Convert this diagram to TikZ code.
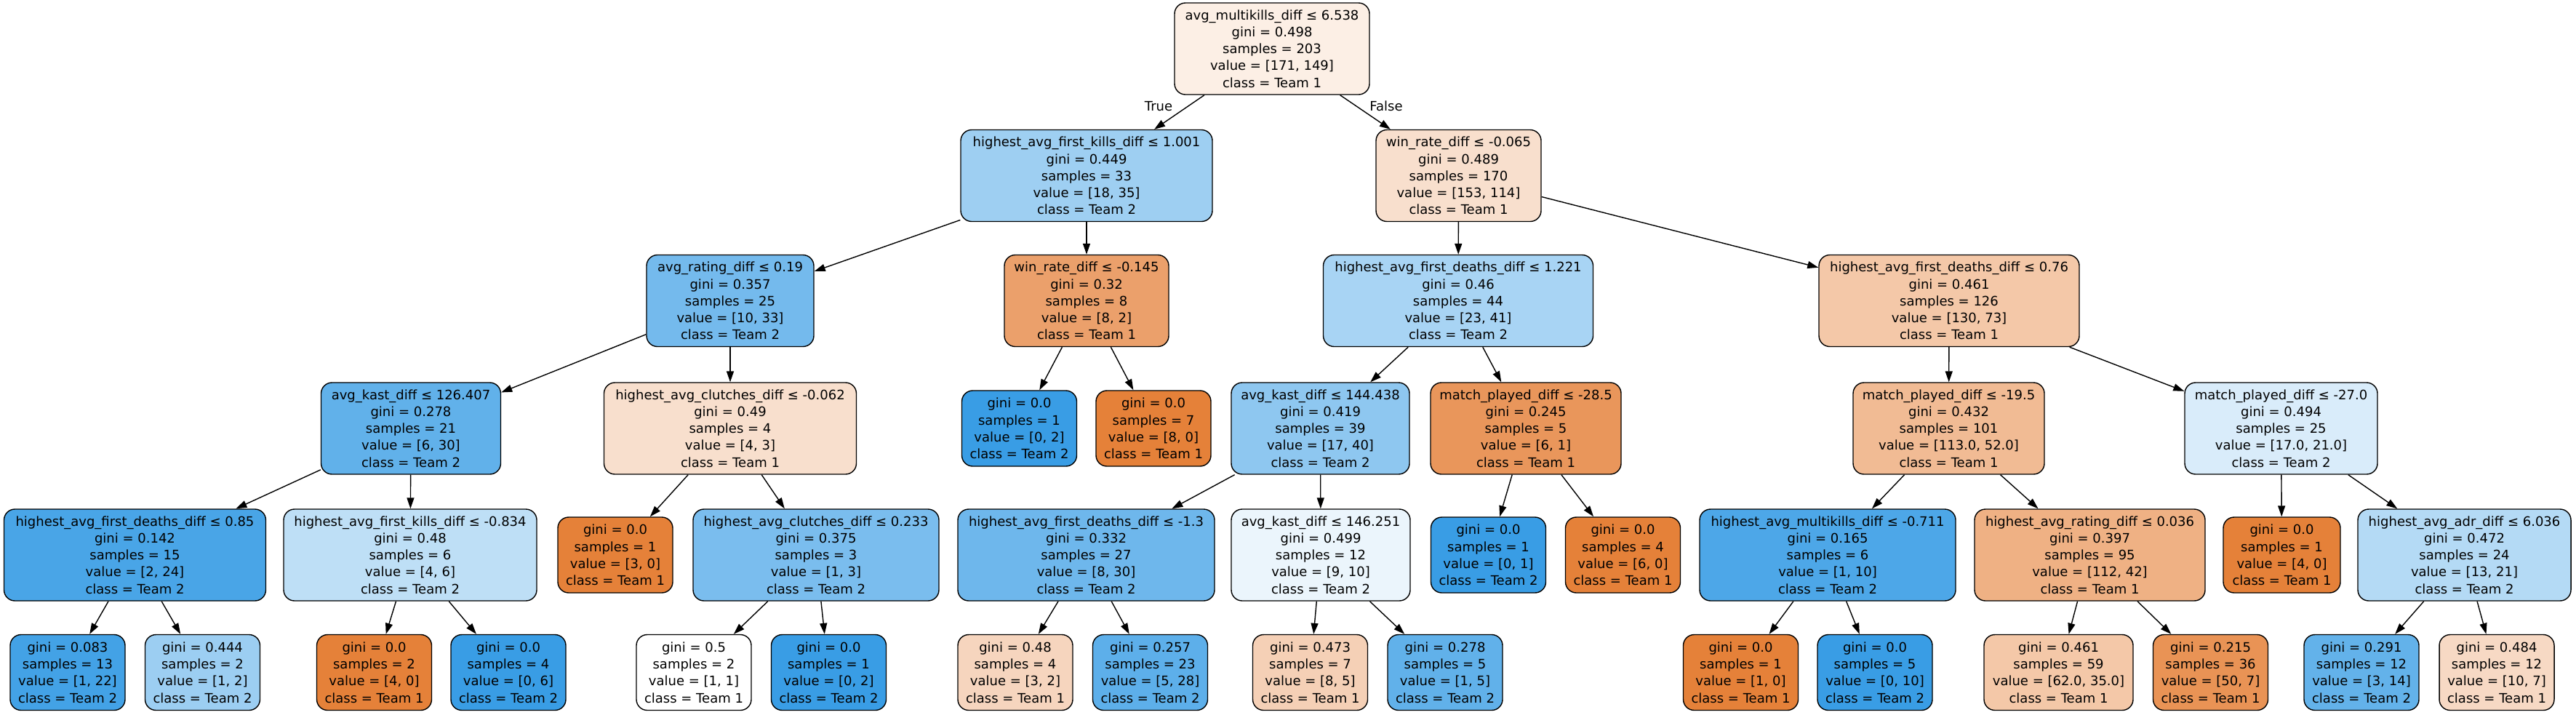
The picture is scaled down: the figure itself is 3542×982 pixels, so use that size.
\documentclass[tikz,border=0pt]{standalone}
\usepackage{fontspec}
\setmainfont{DejaVu Sans}
\usetikzlibrary{arrows.meta}
\definecolor{cO}{HTML}{E58139}
\definecolor{cB}{HTML}{399DE5}
\begin{document}
\begin{tikzpicture}[x=0.5pt,y=-0.5pt,
  tn/.style={draw=black, line width=0.7pt, rounded corners=7.5pt, align=center, inner sep=0pt,
    font=\fontsize{9pt}{11.6pt}\selectfont, minimum height=63pt},
  lf/.style={tn, minimum height=52pt, minimum width=79pt},
  ed/.style={draw=black, line width=0.7pt, -{Triangle[length=7.5pt,width=5pt]}},
  el/.style={font=\fontsize{9pt}{11.6pt}\selectfont, inner sep=0pt}]
\useasboundingbox (0,0) rectangle (3542,982);
% level 0
\node[tn, fill=cO!13!white, minimum width=134pt] (n0) at (1749,67) {avg\_multikills\_diff ≤ 6.538\\gini = 0.498\\samples = 203\\value = [171, 149]\\class = Team 1};
% level 1
\node[tn, fill=cB!49!white, minimum width=173pt] (n1) at (1494,241.5) {highest\_avg\_first\_kills\_diff ≤ 1.001\\gini = 0.449\\samples = 33\\value = [18, 35]\\class = Team 2};
\node[tn, fill=cO!25!white, minimum width=113.5pt] (n2) at (2005.5,241.5) {win\_rate\_diff ≤ -0.065\\gini = 0.489\\samples = 170\\value = [153, 114]\\class = Team 1};
% level 2
\node[tn, fill=cB!70!white, minimum width=115pt] (n3) at (1004,413.5) {avg\_rating\_diff ≤ 0.19\\gini = 0.357\\samples = 25\\value = [10, 33]\\class = Team 2};
\node[tn, fill=cO!75!white, minimum width=113pt] (n4) at (1494,413.5) {win\_rate\_diff ≤ -0.145\\gini = 0.32\\samples = 8\\value = [8, 2]\\class = Team 1};
\node[tn, fill=cB!44!white, minimum width=185.5pt] (n5) at (2005,413.5) {highest\_avg\_first\_deaths\_diff ≤ 1.221\\gini = 0.46\\samples = 44\\value = [23, 41]\\class = Team 2};
\node[tn, fill=cO!44!white, minimum width=179pt] (n6) at (2680,413.5) {highest\_avg\_first\_deaths\_diff ≤ 0.76\\gini = 0.461\\samples = 126\\value = [130, 73]\\class = Team 1};
% level 3
\node[tn, fill=cB!80!white, minimum width=123.5pt] (n7) at (565,589) {avg\_kast\_diff ≤ 126.407\\gini = 0.278\\samples = 21\\value = [6, 30]\\class = Team 2};
\node[tn, fill=cO!25!white, minimum width=173.5pt] (n8) at (1004,589) {highest\_avg\_clutches\_diff ≤ -0.062\\gini = 0.49\\samples = 4\\value = [4, 3]\\class = Team 1};
\node[lf, fill=cB] (n9) at (1401.5,589) {gini = 0.0\\samples = 1\\value = [0, 2]\\class = Team 2};
\node[lf, fill=cO] (n10) at (1586,589) {gini = 0.0\\samples = 7\\value = [8, 0]\\class = Team 1};
\node[tn, fill=cB!57!white, minimum width=122.5pt] (n11) at (1815.5,589) {avg\_kast\_diff ≤ 144.438\\gini = 0.419\\samples = 39\\value = [17, 40]\\class = Team 2};
\node[tn, fill=cO!83!white, minimum width=131pt] (n12) at (2098,589) {match\_played\_diff ≤ -28.5\\gini = 0.245\\samples = 5\\value = [6, 1]\\class = Team 1};
\node[tn, fill=cO!54!white, minimum width=131.5pt] (n13) at (2679.5,589) {match\_played\_diff ≤ -19.5\\gini = 0.432\\samples = 101\\value = [113.0, 52.0]\\class = Team 1};
\node[tn, fill=cB!19!white, minimum width=132.5pt] (n14) at (3136.5,589) {match\_played\_diff ≤ -27.0\\gini = 0.494\\samples = 25\\value = [17.0, 21.0]\\class = Team 2};
% level 4
\node[tn, fill=cB!92!white, minimum width=180pt] (n15) at (185.5,763) {highest\_avg\_first\_deaths\_diff ≤ 0.85\\gini = 0.142\\samples = 15\\value = [2, 24]\\class = Team 2};
\node[tn, fill=cB!33!white, minimum width=174pt] (n16) at (564,763) {highest\_avg\_first\_kills\_diff ≤ -0.834\\gini = 0.48\\samples = 6\\value = [4, 6]\\class = Team 2};
\node[lf, fill=cO] (n17) at (846,763) {gini = 0.0\\samples = 1\\value = [3, 0]\\class = Team 1};
\node[tn, fill=cB!67!white, minimum width=169pt] (n18) at (1122,763) {highest\_avg\_clutches\_diff ≤ 0.233\\gini = 0.375\\samples = 3\\value = [1, 3]\\class = Team 2};
\node[tn, fill=cB!73!white, minimum width=176.5pt] (n19) at (1493.5,763) {highest\_avg\_first\_deaths\_diff ≤ -1.3\\gini = 0.332\\samples = 27\\value = [8, 30]\\class = Team 2};
\node[tn, fill=cB!10!white, minimum width=123pt] (n20) at (1816,763) {avg\_kast\_diff ≤ 146.251\\gini = 0.499\\samples = 12\\value = [9, 10]\\class = Team 2};
\node[lf, fill=cB] (n21) at (2046.5,763) {gini = 0.0\\samples = 1\\value = [0, 1]\\class = Team 2};
\node[lf, fill=cO] (n22) at (2231.5,763) {gini = 0.0\\samples = 4\\value = [6, 0]\\class = Team 1};
\node[tn, fill=cB!90!white, minimum width=176pt] (n23) at (2513,763) {highest\_avg\_multikills\_diff ≤ -0.711\\gini = 0.165\\samples = 6\\value = [1, 10]\\class = Team 2};
\node[tn, fill=cO!62!white, minimum width=158.5pt] (n24) at (2873.5,763) {highest\_avg\_rating\_diff ≤ 0.036\\gini = 0.397\\samples = 95\\value = [112, 42]\\class = Team 1};
\node[lf, fill=cO, minimum width=80.5pt] (n25) at (3137.5,763) {gini = 0.0\\samples = 1\\value = [4, 0]\\class = Team 1};
\node[tn, fill=cB!38!white, minimum width=146.5pt] (n26) at (3388.5,763) {highest\_avg\_adr\_diff ≤ 6.036\\gini = 0.472\\samples = 24\\value = [13, 21]\\class = Team 2};
% level 5
\node[lf, fill=cB!95!white] (l27) at (93,924.5) {gini = 0.083\\samples = 13\\value = [1, 22]\\class = Team 2};
\node[lf, fill=cB!50!white] (l28) at (278.5,924.5) {gini = 0.444\\samples = 2\\value = [1, 2]\\class = Team 2};
\node[lf, fill=cO] (l29) at (514.5,924.5) {gini = 0.0\\samples = 2\\value = [4, 0]\\class = Team 1};
\node[lf, fill=cB] (l30) at (699,924.5) {gini = 0.0\\samples = 4\\value = [0, 6]\\class = Team 2};
\node[lf, fill=white] (l31) at (954,924.5) {gini = 0.5\\samples = 2\\value = [1, 1]\\class = Team 1};
\node[lf, fill=cB] (l32) at (1139.5,924.5) {gini = 0.0\\samples = 1\\value = [0, 2]\\class = Team 2};
\node[lf, fill=cO!33!white] (l33) at (1396,924.5) {gini = 0.48\\samples = 4\\value = [3, 2]\\class = Team 1};
\node[lf, fill=cB!82!white] (l34) at (1581.5,924.5) {gini = 0.257\\samples = 23\\value = [5, 28]\\class = Team 2};
\node[lf, fill=cO!37!white] (l35) at (1801.5,924.5) {gini = 0.473\\samples = 7\\value = [8, 5]\\class = Team 1};
\node[lf, fill=cB!80!white] (l36) at (1987,924.5) {gini = 0.278\\samples = 5\\value = [1, 5]\\class = Team 2};
\node[lf, fill=cO] (l37) at (2393.5,924.5) {gini = 0.0\\samples = 1\\value = [1, 0]\\class = Team 1};
\node[lf, fill=cB] (l38) at (2578,924.5) {gini = 0.0\\samples = 5\\value = [0, 10]\\class = Team 2};
\node[lf, fill=cO!44!white, minimum width=102.5pt] (l39) at (2830.5,924.5) {gini = 0.461\\samples = 59\\value = [62.0, 35.0]\\class = Team 1};
\node[lf, fill=cO!86!white] (l40) at (3039.5,924.5) {gini = 0.215\\samples = 36\\value = [50, 7]\\class = Team 1};
\node[lf, fill=cB!79!white] (l41) at (3247,924.5) {gini = 0.291\\samples = 12\\value = [3, 14]\\class = Team 2};
\node[lf, fill=cO!30!white] (l42) at (3433,924.5) {gini = 0.484\\samples = 12\\value = [10, 7]\\class = Team 1};
% edges
\foreach \a/\b in {n0/n1,n0/n2,n1/n3,n1/n4,n2/n5,n2/n6,n3/n7,n3/n8,n4/n9,n4/n10,
  n5/n11,n5/n12,n6/n13,n6/n14,n7/n15,n7/n16,n8/n17,n8/n18,n11/n19,n11/n20,
  n12/n21,n12/n22,n13/n23,n13/n24,n14/n25,n14/n26,n15/l27,n15/l28,n16/l29,n16/l30,
  n18/l31,n18/l32,n19/l33,n19/l34,n20/l35,n20/l36,n23/l37,n23/l38,n24/l39,n24/l40,
  n26/l41,n26/l42}
  \draw[ed] (\a) -- (\b);
\node[el] (lt) at (1593,146) {True};
\node[el] (lf) at (1906,146) {False};
\end{tikzpicture}
\end{document}
